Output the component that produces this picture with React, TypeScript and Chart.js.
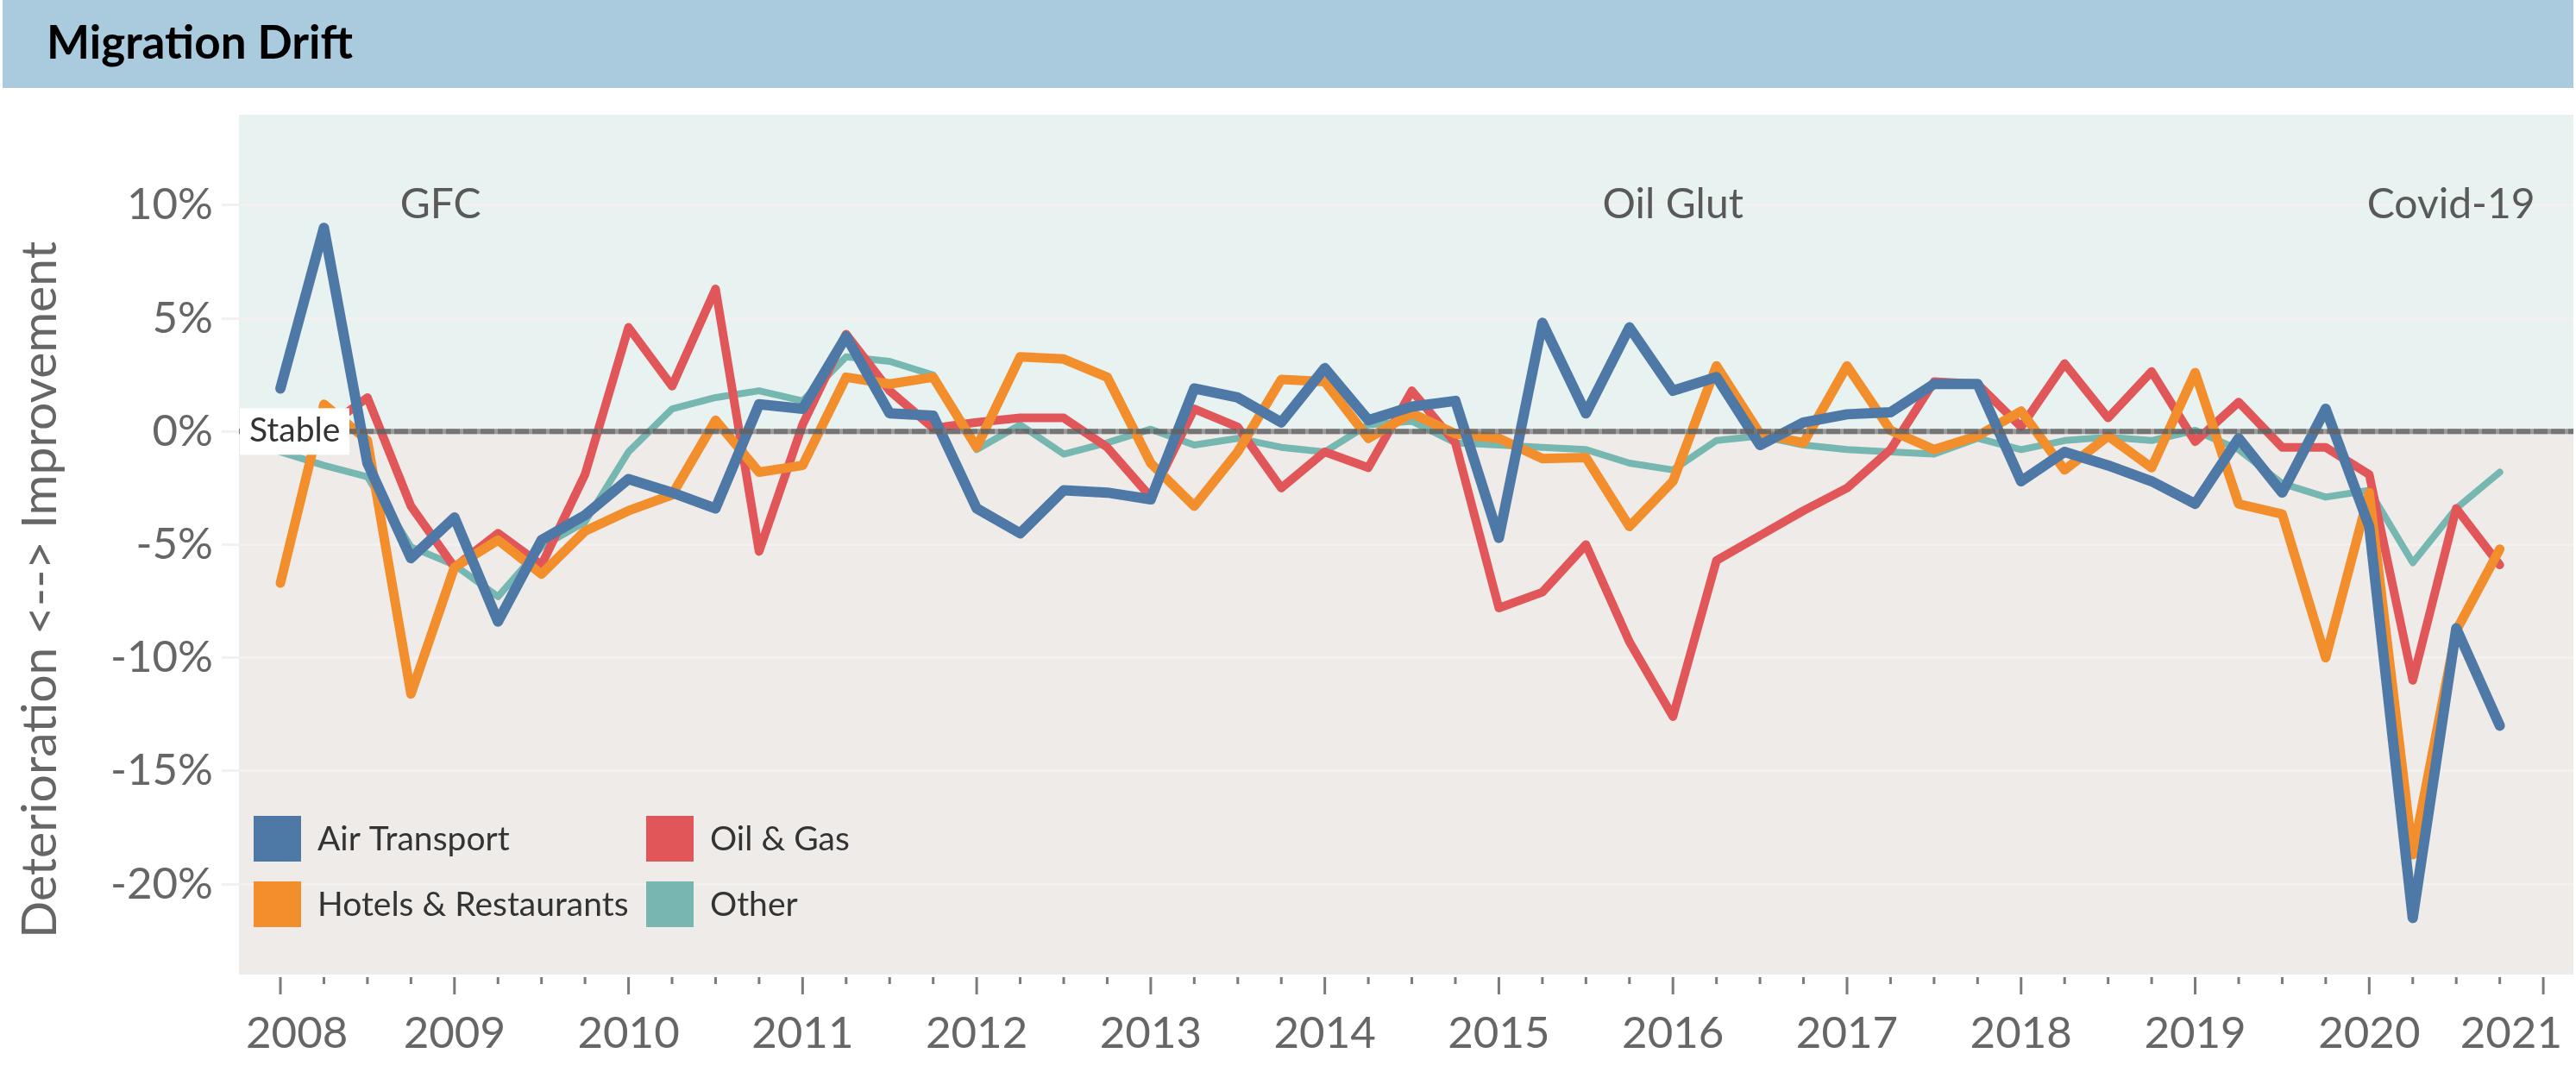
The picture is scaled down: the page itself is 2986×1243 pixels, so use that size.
import React, { useEffect, useRef } from "react";
import { Chart, registerables } from "chart.js";

Chart.register(...registerables);

// ---------------- DATA ----------------
const quarters = [
  "2008Q1", "2008Q2", "2008Q3", "2008Q4",
  "2009Q1", "2009Q2", "2009Q3", "2009Q4",
  "2010Q1", "2010Q2", "2010Q3", "2010Q4",
  "2011Q1", "2011Q2", "2011Q3", "2011Q4",
  "2012Q1", "2012Q2", "2012Q3", "2012Q4",
  "2013Q1", "2013Q2", "2013Q3", "2013Q4",
  "2014Q1", "2014Q2", "2014Q3", "2014Q4",
  "2015Q1", "2015Q2", "2015Q3", "2015Q4",
  "2016Q1", "2016Q2", "2016Q3", "2016Q4",
  "2017Q1", "2017Q2", "2017Q3", "2017Q4",
  "2018Q1", "2018Q2", "2018Q3", "2018Q4",
  "2019Q1", "2019Q2", "2019Q3", "2019Q4",
  "2020Q1", "2020Q2", "2020Q3", "2020Q4",
];

const airTransport = [
  1.9, 9.0, -1.4, -5.6, -3.8, -8.4, -4.8, -3.7,
  -2.1, -2.7, -3.4, 1.2, 1.0, 4.2, 0.8, 0.7,
  -3.4, -4.5, -2.6, -2.7, -3.0, 1.9, 1.5, 0.4,
  2.8, 0.5, 1.1, 1.35, -4.7, 4.8, 0.8, 4.6,
  1.8, 2.4, -0.6, 0.4, 0.76, 0.85, 2.1, 2.1,
  -2.2, -0.9, -1.5, -2.2, -3.2, -0.3, -2.7, 1.0,
  -4.2, -21.5, -8.7, -13.0,
];

const hotelsRestaurants = [
  -6.7, 1.2, -0.4, -11.6, -6.0, -4.8, -6.3, -4.4,
  -3.5, -2.8, 0.5, -1.8, -1.5, 2.4, 2.1, 2.4,
  -0.7, 3.3, 3.2, 2.4, -1.4, -3.3, -0.9, 2.3,
  2.2, -0.3, 0.8, -0.1, -0.3, -1.2, -1.15, -4.2,
  -2.2, 2.9, -0.1, -0.5, 2.9, 0.05, -0.8, -0.2,
  0.9, -1.7, -0.2, -1.6, 2.6, -3.2, -3.65, -10.0,
  -2.7, -18.7, -8.8, -5.2,
];

const oilGas = [
  0.5, 0.1, 1.5, -3.3, -6.0, -4.5, -5.9, -1.9,
  4.6, 2.0, 6.3, -5.3, 0.3, 4.3, 1.8, 0.15,
  0.4, 0.6, 0.6, -0.7, -2.9, 1.0, 0.2, -2.5,
  -0.9, -1.6, 1.8, -0.5, -7.8, -7.1, -5.0, -9.3,
  -12.6, -5.7, -4.6, -3.5, -2.5, -0.8, 2.2, 2.1,
  0.2, 3.0, 0.6, 2.65, -0.45, 1.3, -0.7, -0.7,
  -1.9, -11.0, -3.4, -5.9,
];

const other = [
  -0.9, -1.5, -2.0, -5.1, -5.9, -7.3, -5.1, -4.0,
  -0.9, 1.0, 1.5, 1.8, 1.35, 3.3, 3.1, 2.5,
  -0.8, 0.3, -1.0, -0.5, 0.1, -0.6, -0.3, -0.7,
  -0.9, 0.3, 0.45, -0.5, -0.6, -0.7, -0.8, -1.4,
  -1.7, -0.4, -0.2, -0.6, -0.8, -0.9, -1.0, -0.3,
  -0.8, -0.4, -0.25, -0.4, 0.05, -0.8, -2.3, -2.9,
  -2.6, -5.8, -3.4, -1.8,
];

const seriesNames = ["Air Transport", "Hotels & Restaurants", "Oil & Gas", "Other"];
const yearTicks = [2008, 2009, 2010, 2011, 2012, 2013, 2014, 2015, 2016, 2017, 2018, 2019, 2020, 2021];
const yTickValues = [-20, -15, -10, -5, 0, 5, 10];
const eventLabels = ["GFC", "Oil Glut", "Covid-19"];
const eventYears = [2008.92, 2016.0, 2020.47];

// ---------------- STYLE ----------------
const W = 2986;
const H = 1243;
const FONT = "Lato, 'Open Sans', 'Noto Sans', sans-serif";
const seriesColors = ["#4e79a7", "#f28e2b", "#e15759", "#76b7b2"];
const seriesWidths = [12, 11, 10, 8];
const seriesOrder = [0, 1, 2, 3];

const quarterToYear = (q: string) => parseInt(q.slice(0, 4), 10) + (parseInt(q.slice(5), 10) - 1) / 4;

export default function App() {
  const canvasRef = useRef<HTMLCanvasElement | null>(null);

  useEffect(() => {
    const canvas = canvasRef.current;
    if (!canvas) return;
    const values = [airTransport, hotelsRestaurants, oilGas, other];

    const bgPlugin = {
      id: "zones",
      beforeDraw(chart: any) {
        const { ctx, chartArea } = chart;
        const y = chart.scales.y;
        const y0 = y.getPixelForValue(0);
        ctx.save();
        ctx.fillStyle = "#ffffff";
        ctx.fillRect(0, 0, chart.width, chart.height);
        ctx.fillStyle = "#e8f2f1";
        ctx.fillRect(chartArea.left, chartArea.top, chartArea.right - chartArea.left, y0 - chartArea.top);
        ctx.fillStyle = "#efebe9";
        ctx.fillRect(chartArea.left, y0, chartArea.right - chartArea.left, chartArea.bottom - y0);
        ctx.restore();
      },
    };

    const overlayPlugin = {
      id: "overlay",
      afterDatasetsDraw(chart: any) {
        const { ctx, chartArea } = chart;
        const xs = chart.scales.x;
        const ys = chart.scales.y;
        const y0 = ys.getPixelForValue(0);
        ctx.save();

        // zero (stable) reference line
        ctx.lineWidth = 6;
        ctx.strokeStyle = "rgba(120,120,120,0.7)";
        ctx.beginPath();
        ctx.moveTo(chartArea.left, y0);
        ctx.lineTo(chartArea.right, y0);
        ctx.stroke();
        ctx.setLineDash([16, 4]);
        ctx.strokeStyle = "rgba(85,85,85,0.55)";
        ctx.beginPath();
        ctx.moveTo(chartArea.left, y0);
        ctx.lineTo(chartArea.right, y0);
        ctx.stroke();
        ctx.setLineDash([]);

        // Stable label
        ctx.fillStyle = "#ffffff";
        ctx.fillRect(chartArea.left + 1, y0 - 27, 127, 54);
        ctx.fillStyle = "#333333";
        ctx.font = `39px ${FONT}`;
        ctx.textAlign = "left";
        ctx.textBaseline = "middle";
        ctx.fillText("Stable", chartArea.left + 12, y0 - 1);

        // event annotations
        ctx.fillStyle = "#595959";
        ctx.font = `48px ${FONT}`;
        ctx.textAlign = "center";
        ctx.textBaseline = "alphabetic";
        eventLabels.forEach((lab, i) => {
          ctx.fillText(lab, xs.getPixelForValue(eventYears[i]), ys.getPixelForValue(9.43));
        });

        // legend (2 rows, column-major)
        const legX = [chartArea.left + 17, chartArea.left + 472];
        const legY = [946, 1022];
        ctx.font = `39px ${FONT}`;
        ctx.textAlign = "left";
        ctx.textBaseline = "middle";
        seriesNames.forEach((name, k) => {
          const col = Math.floor(k / 2);
          const row = k % 2;
          ctx.fillStyle = seriesColors[k];
          ctx.fillRect(legX[col], legY[row], 55, 53);
          ctx.fillStyle = "#333333";
          ctx.fillText(name, legX[col] + 74, legY[row] + 27);
        });

        // x axis ticks and labels
        ctx.strokeStyle = "#7a7a7a";
        ctx.lineWidth = 3;
        const tickTop = chartArea.bottom + 3;
        yearTicks.forEach((yr, idx) => {
          const px = xs.getPixelForValue(yr);
          ctx.beginPath();
          ctx.moveTo(px, tickTop);
          ctx.lineTo(px, tickTop + 20);
          ctx.stroke();
          if (idx < yearTicks.length - 1) {
            [0.25, 0.5, 0.75].forEach((f) => {
              const mx = xs.getPixelForValue(yr + f);
              ctx.beginPath();
              ctx.moveTo(mx, tickTop);
              ctx.lineTo(mx, tickTop + 8);
              ctx.stroke();
            });
          }
        });
        ctx.fillStyle = "#666666";
        ctx.font = `51px ${FONT}`;
        ctx.textBaseline = "alphabetic";
        ctx.textAlign = "left";
        yearTicks.forEach((yr) => {
          const label = String(yr);
          const w = ctx.measureText(label).width;
          let left = xs.getPixelForValue(yr) - w / 2;
          if (left < chartArea.left + 8) left = chartArea.left + 8;
          if (left + w > W - 16) left = W - 16 - w;
          ctx.fillText(label, left, 1215);
        });

        // y axis title
        ctx.save();
        ctx.translate(47, 684);
        ctx.rotate(-Math.PI / 2);
        ctx.fillStyle = "#666666";
        ctx.font = `57px ${FONT}`;
        ctx.textAlign = "center";
        ctx.textBaseline = "middle";
        ctx.fillText("Deterioration <--> Improvement", 0, 0);
        ctx.restore();

        ctx.restore();
      },
    };

    const chart = new Chart(canvas, {
      type: "line",
      data: {
        datasets: seriesNames.map((name, k) => ({
          label: name,
          data: quarters.map((q, i) => ({ x: quarterToYear(q), y: values[k][i] })),
          borderColor: seriesColors[k],
          backgroundColor: seriesColors[k],
          borderWidth: seriesWidths[k],
          pointRadius: 0,
          tension: 0,
          fill: false,
          borderJoinStyle: "round" as const,
          borderCapStyle: "round" as const,
          order: seriesOrder[k],
        })),
      },
      options: {
        responsive: false,
        animation: false,
        layout: { padding: { left: 0, top: 133, right: 3, bottom: 113 } },
        scales: {
          x: {
            type: "linear",
            min: 2007.762,
            max: 2021.173,
            display: false,
          },
          y: {
            type: "linear",
            min: -24,
            max: 14,
            afterBuildTicks: (s: any) => {
              s.ticks = yTickValues.map((v) => ({ value: v }));
            },
            afterFit: (s: any) => {
              s.width = 277;
            },
            grid: {
              color: "#f3f1f0",
              lineWidth: 3,
              tickLength: 20,
              drawTicks: true,
            },
            border: { display: false },
            ticks: {
              font: { family: FONT, size: 51 },
              color: "#666666",
              padding: 10,
              callback: (v: any) => `${v}%`,
            },
          },
        },
        plugins: {
          legend: { display: false },
          tooltip: { enabled: false },
        },
      },
      plugins: [bgPlugin, overlayPlugin],
    });

    return () => chart.destroy();
  }, []);

  return (
    <div style={{ position: "fixed", left: 0, top: 0, width: W, height: H, background: "#ffffff", overflow: "hidden" }}>
      <canvas ref={canvasRef} width={W} height={H} style={{ position: "absolute", left: 0, top: 0, width: W, height: H }} />
      <div
        style={{
          position: "absolute",
          left: 3,
          top: 0,
          width: 2980,
          height: 102,
          background: "#a9cbdd",
          fontFamily: FONT,
          fontWeight: 700,
          fontSize: 53,
          lineHeight: "95px",
          color: "#000000",
          paddingLeft: 51,
          boxSizing: "border-box",
        }}
      >
        Migration Drift
      </div>
    </div>
  );
}
